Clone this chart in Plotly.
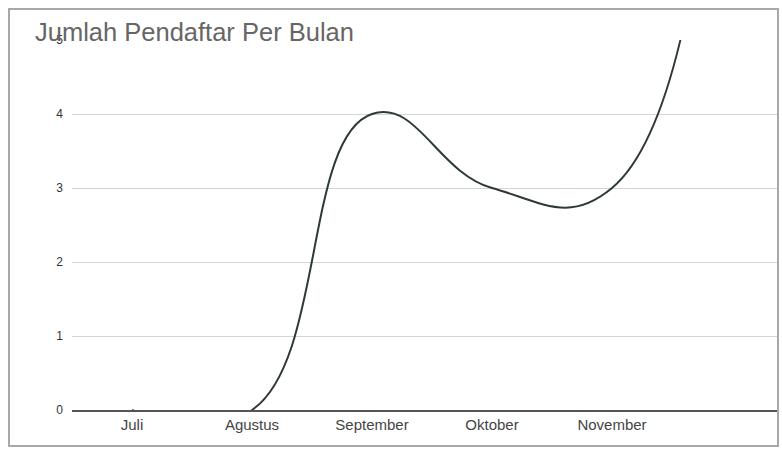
import plotly.graph_objects as go

# Monthly registrant counts (the last point lies beyond the visible window)
month_pos = [0, 1, 2, 3, 4, 5]
registrants = [0, 0, 4, 3, 3, 12]

# Category labels on the x axis
tick_pos = [0, 1, 2, 3, 4]
tick_labels = ["Juli", "Agustus", "September", "Oktober", "November"]

y_ticks = [0, 1, 2, 3, 4, 5]

W, H = 782, 450
M_L, M_R, M_T, M_B = 72, 5, 40, 40

fig = go.Figure()
fig.add_trace(go.Scatter(
    x=month_pos,
    y=registrants,
    mode="lines",
    line=dict(color="#2f3a33", width=2, shape="spline", smoothing=1.3),
    hoverinfo="x+y",
    showlegend=False,
))

# Card frame around the chart
px_w = W - M_L - M_R
px_h = H - M_T - M_B
fig.add_shape(
    type="rect", xref="paper", yref="paper", layer="below",
    x0=(9 - M_L) / px_w, x1=(778 - M_L) / px_w,
    y0=(410 - 446) / px_h, y1=(410 - 9) / px_h,
    line=dict(color="#a8a8a8", width=2), fillcolor="rgba(0,0,0,0)",
)

fig.update_layout(
    width=W, height=H,
    margin=dict(l=M_L, r=M_R, t=M_T, b=M_B),
    paper_bgcolor="white", plot_bgcolor="white",
    font=dict(family="Liberation Sans, Arial, sans-serif", color="#444"),
    title=dict(
        text="Jumlah Pendaftar Per Bulan",
        x=35 / W, xref="container", xanchor="left",
        y=1 - 32 / H, yref="container", yanchor="middle",
        font=dict(size=25.5, color="#666", family="Liberation Sans, Arial, sans-serif"),
    ),
    xaxis=dict(
        range=[-0.5, 5.375],
        tickmode="array", tickvals=tick_pos, ticktext=tick_labels,
        showgrid=False, zeroline=False,
        showline=True, linecolor="#555", linewidth=1.5,
        ticks="", tickfont=dict(size=15, color="#444"),
        fixedrange=True,
    ),
    yaxis=dict(
        range=[0, 5],
        tickmode="array", tickvals=y_ticks,
        showgrid=True, gridcolor="#d4d4d4", gridwidth=1,
        zeroline=False, ticks="", ticklabelstandoff=8,
        tickfont=dict(size=12, color="#333"),
        fixedrange=True,
    ),
)

fig.write_html("out.html")
